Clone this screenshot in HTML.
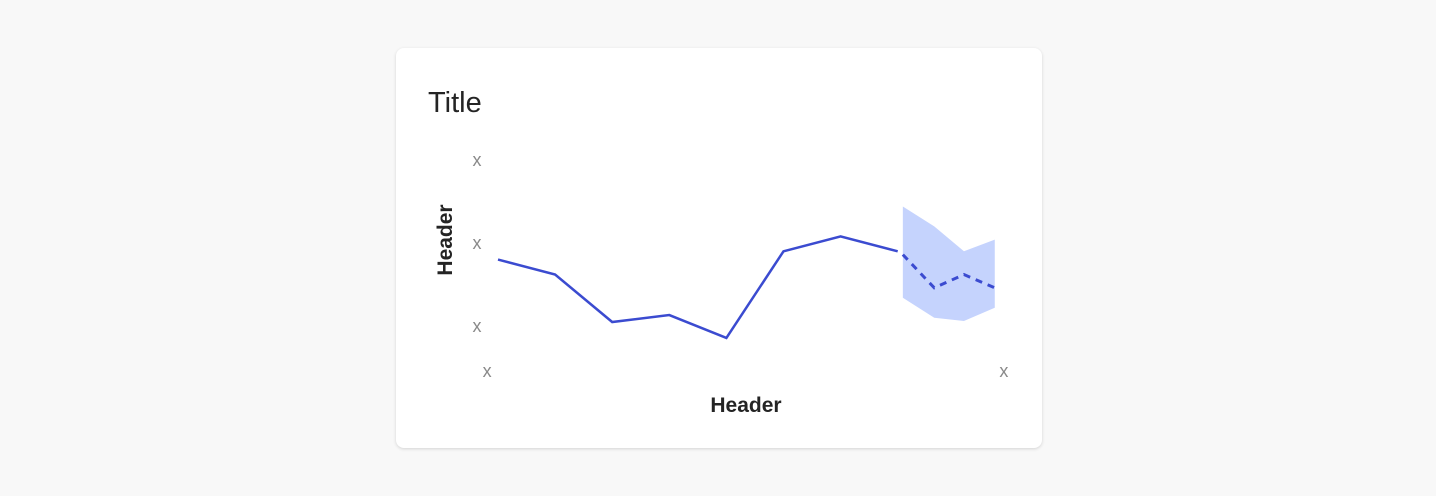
<!DOCTYPE html>
<html><head><meta charset="utf-8"><style>
body{margin:0;width:1436px;height:496px;background:#f8f8f8;font-family:"Liberation Sans",sans-serif;overflow:hidden}
.card{position:absolute;left:396px;top:48px;width:646px;height:400px;background:#fff;border-radius:8px;box-shadow:0 1px 3px rgba(0,0,0,.15)}
</style></head><body>
<div class="card"></div>
<svg width="1436" height="496" style="position:absolute;left:0;top:0">
<text x="428" y="112" font-size="29" fill="#242424">Title</text>
<text transform="translate(452,240) rotate(-90)" text-anchor="middle" font-size="21" font-weight="bold" fill="#242424">Header</text>
<text x="746" y="412" text-anchor="middle" font-size="21" font-weight="bold" fill="#242424">Header</text>
<g id="ticks"></g>
<g id="marks"></g>
</svg>
<script>
const yTickVals=[0,50,100];
const yTickLabels=["x","x","x"];
const xTickVals=[-0.2,8.85];
const xTickLabels=["x","x"];
const actualX=[0,1,2,3,4,5,6,7];
const actualY=[40,31,2.4,6.6,-7.2,45,54,45];
const forecastX=[7.09,7.64,8.16,8.7];
const forecastY=[43,23,31,23];
const bandUpper=[72,60,45,52];
const bandLower=[17,5,3,11];
const xs=v=>498+v*57.1;
const ys=v=>326-v*1.66;
const NS="http://www.w3.org/2000/svg";
const ticks=document.getElementById('ticks'),marks=document.getElementById('marks');
function mk(tag,attrs,parent){const e=document.createElementNS(NS,tag);for(const k in attrs)e.setAttribute(k,attrs[k]);parent.appendChild(e);return e;}
yTickVals.forEach((v,i)=>{const t=mk('text',{x:477,y:ys(v)+6,'text-anchor':'middle','font-size':18,fill:'#8a8a8a'},ticks);t.textContent=yTickLabels[i];

});
xTickVals.forEach((v,i)=>{const t=mk('text',{x:xs(v)+0.5,y:377,'text-anchor':'middle','font-size':18,fill:'#8a8a8a'},ticks);t.textContent=xTickLabels[i];

});
let band=forecastX.map((x,i)=>xs(x)+','+ys(bandUpper[i])).concat(forecastX.map((x,i)=>xs(x)+','+ys(bandLower[i])).reverse()).join(' ');
const b=mk('polygon',{points:band,fill:'#c5d3fd'},marks);


const l=mk('polyline',{points:actualX.map((x,i)=>xs(x)+','+ys(actualY[i])).join(' '),fill:'none',stroke:'#3b4bd0','stroke-width':2.5,'stroke-linejoin':'miter'},marks);


const f=mk('polyline',{points:forecastX.map((x,i)=>xs(x)+','+ys(forecastY[i])).join(' '),fill:'none',stroke:'#3b4bd0','stroke-width':3,'stroke-dasharray':'7 6'},marks);


</script>
</body></html>
